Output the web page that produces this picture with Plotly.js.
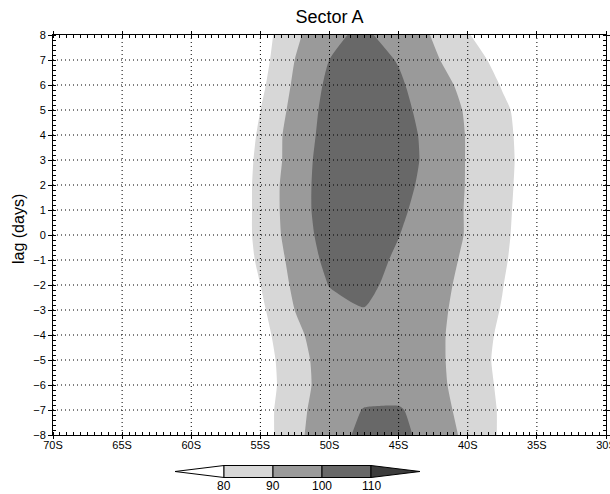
<!DOCTYPE html>
<html>
<head>
<meta charset="utf-8">
<script src="https://cdn.plot.ly/plotly-3.0.1.min.js"></script>
<style>
html,body{margin:0;padding:0;background:#ffffff;}
#chart{width:610px;height:494px;}
</style>
</head>
<body>
<div id="chart"></div>
<script>
// ---- data ----
const latitudes = [-70,-67.5,-65,-62.5,-60,-57.5,-55,-52.5,-50,-47.5,-45,-42.5,-40,-37.5,-35,-32.5,-30];
const lags = [-8,-7,-6,-5,-4,-3,-2,-1,0,1,2,3,4,5,6,7,8];

const lagM8 = [42,46,50,54,58, 64.5, 75.47, 86.8, 98.23, 101,   103,   95.5,  87.86, 78.5,  72,   66,60];
const lagM7 = [42,46,50,54,58, 65.4, 75.83, 86.25,96.67, 100.29,101,   94.75, 86.27, 78.8,  73,   66,60];
const lagM6 = [42,46,50,54,58, 65.2, 75.2,  85.2, 95.2,  97.5,  95,    93.5,  85.05, 78.4,  73,   66,60];
const lagM5 = [42,46,50,54,58, 65.6, 75.6,  85.6, 95.6,  97.5,  97,    94,    82.9,  78.64, 73,   66,60];
const lagM4 = [42,46,50,54,58, 66.2, 76.67, 87.08,97.5,  98.5,  97.5,  94.5,  82,    79.37, 74,   66,60];
const lagM3 = [42,46,50,54,58, 66.8, 78.07, 90.1, 97,    99.7,  98,    94,    84.9,  79.57, 74,   66,60];
const lagM2 = [42,46,50,54,58, 68.1, 79.95, 91.9, 100.34,102.5, 96.82, 92.64, 87.93, 80.27, 73.5, 66,60];
const lagM1 = [42,46,50,54,58, 70.45,81.82, 93.18,102.65,103.5, 98.64, 93.6,  88.6,  81.1,  74.2, 66,60];
const lag0  = [42,46,50,54,58, 70.95,82.86, 94.76,104.1, 105,   100.22,94.78, 89.35, 81.76, 74.4, 66,60];
const lagP1 = [42,46,50,54,58, 70.5, 83,    95.5, 104.9, 106.5, 101.75,95.5,  89.25, 82,    74.9, 66,60];
const lagP2 = [42,46,50,54,58, 70.5, 83,    95.5, 104.9, 107,   103.3, 96.4,  89.4,  82.3,  75.2, 66,60];
const lagP3 = [42,46,50,54,58, 70,   82.5,  94.4, 105.2, 107,   104.5, 97,    89.4,  82.5,  75.5, 66,60];
const lagP4 = [42,46,50,54,58, 68.4, 81.6,  94.7, 103.5, 107,   104.1, 96.8,  89.4,  82.3,  75.2, 66,60];
const lagP5 = [42,46,50,54,58, 67.5, 79.95, 93.2, 103.2, 106,   102.8, 95.8,  88.9,  81.7,  74.6, 66,60];
const lagP6 = [42,46,50,54,58, 65,   77.8,  91.7, 102.1, 105,   101.4, 94.3,  87.1,  79.4,  73,   66,60];
const lagP7 = [42,46,50,54,58, 65,   76.1,  90.1, 100.1, 104,   99.45, 91.5,  84,    76.9,  70,   66,60];
const lagP8 = [42,46,50,54,58, 62.5, 75,    88.5, 96,    103.7, 90.5,  89.95, 80.5,  74.3,  68,   66,60];

const xTickVals = [-70,-65,-60,-55,-50,-45,-40,-35,-30];
const xTickText = ['70S','65S','60S','55S','50S','45S','40S','35S','30S'];
const yTickVals = [-8,-7,-6,-5,-4,-3,-2,-1,0,1,2,3,4,5,6,7,8];

const contourLevels = [80,90,100,110];
const shadeColors = ['#ffffff','#d7d7d7','#9a9a9a','#686868','#3c3c3c'];

// ---- build ----
const zGrid = [lagM8,lagM7,lagM6,lagM5,lagM4,lagM3,lagM2,lagM1,lag0,lagP1,lagP2,lagP3,lagP4,lagP5,lagP6,lagP7,lagP8];
const colorscale = shadeColors.map((c,i)=>[i/(shadeColors.length-1), c]);

const trace = {
  type:'contour',
  x: latitudes, y: lags, z: zGrid,
  contours:{start:contourLevels[0], end:contourLevels[contourLevels.length-1],
            size:contourLevels[1]-contourLevels[0], coloring:'fill', showlines:false},
  colorscale: colorscale,
  showscale:false,
  line:{width:0, smoothing:0.6},
  hoverinfo:'skip'
};

const W=610,H=494, mL=53, mR=4, mT=35, mB=59;
const plotW = W-mL-mR, plotH = H-mT-mB;
const px2x = p => (p-mL)/plotW;
const py2y = p => (H-mB-p)/plotH;

const tickFont = {family:'Liberation Sans Narrow, Liberation Sans, Arial, sans-serif', size:11, color:'#000'};
const gridDash = '1px,3px';

const shapes = [];
// dotted grid on top of the shading
xTickVals.slice(1,-1).forEach(v=>shapes.push({type:'line',xref:'x',yref:'paper',x0:v,x1:v,y0:0,y1:1,
  layer:'above', line:{color:'#000',width:1,dash:gridDash}}));
yTickVals.slice(1,-1).forEach(v=>shapes.push({type:'line',xref:'paper',yref:'y',x0:0,x1:1,y0:v,y1:v,
  layer:'above', line:{color:'#000',width:1,dash:gridDash}}));

// GrADS-style colour bar with triangular ends
const cbLeft = 175, seg = 49, cbTop = 465.5, cbBot = 477.5, cbMid = (cbTop+cbBot)/2;
const annotations = [];
const nBox = contourLevels.length-1;
shapes.push({type:'path', xref:'paper', yref:'paper', layer:'above',
  path:`M ${px2x(cbLeft)} ${py2y(cbMid)} L ${px2x(cbLeft+seg)} ${py2y(cbTop)} L ${px2x(cbLeft+seg)} ${py2y(cbBot)} Z`,
  fillcolor: shadeColors[0], line:{color:'#000',width:1}});
for(let i=0;i<nBox;i++){
  const x0 = cbLeft+seg*(i+1), x1 = x0+seg;
  shapes.push({type:'rect', xref:'paper', yref:'paper', layer:'above',
    x0:px2x(x0), x1:px2x(x1), y0:py2y(cbBot), y1:py2y(cbTop),
    fillcolor: shadeColors[i+1], line:{color:'#000',width:1}});
}
{
  const xr = cbLeft+seg*(nBox+1);
  shapes.push({type:'path', xref:'paper', yref:'paper', layer:'above',
    path:`M ${px2x(xr)} ${py2y(cbTop)} L ${px2x(xr+seg)} ${py2y(cbMid)} L ${px2x(xr)} ${py2y(cbBot)} Z`,
    fillcolor: shadeColors[shadeColors.length-1], line:{color:'#000',width:1}});
}
contourLevels.forEach((lv,i)=>annotations.push({xref:'paper',yref:'paper',
  x:px2x(cbLeft+seg*(i+1)), y:py2y(486.5), text:String(lv), showarrow:false,
  xanchor:'center', yanchor:'middle', font:{family:'Liberation Sans, Arial, sans-serif', size:12, color:'#000'}}));

annotations.push({xref:'paper',yref:'paper', x:px2x(18), y:py2y(229), text:'lag (days)',
  textangle:-90, showarrow:false, xanchor:'center', yanchor:'middle',
  font:{family:'Liberation Sans, Arial, sans-serif', size:16, color:'#000'}});

const layout = {
  width:W, height:H,
  margin:{l:mL, r:mR, t:mT, b:mB, pad:0},
  paper_bgcolor:'#ffffff', plot_bgcolor:'#ffffff',
  showlegend:false,
  title:{text:'Sector A', x:0.5, xref:'paper', xanchor:'center', y:1-17/H, yref:'container', yanchor:'middle',
         font:{family:'Liberation Sans, Arial, sans-serif', size:18, color:'#000'}},
  xaxis:{range:[-70,-30], tickmode:'array', tickvals:xTickVals, ticktext:xTickText,
         ticks:'outside', ticklen:3, tickwidth:1, tickcolor:'#000', ticklabeloverflow:'allow',
         ticklabelstandoff:-3,
         showline:true, linecolor:'#000', linewidth:1, mirror:'allticks',
         showgrid:false, zeroline:false, tickfont:tickFont, layer:'above traces',
         minor:{dtick:0.5, ticks:'inside', ticklen:3, tickcolor:'#000', tickwidth:1, showgrid:false}},
  yaxis:{range:[-8,8], tickmode:'array', tickvals:yTickVals,
         ticks:'outside', ticklen:4, tickwidth:1, tickcolor:'#000',
         showline:true, linecolor:'#000', linewidth:1, mirror:'allticks',
         showgrid:false, zeroline:false, tickfont:tickFont, layer:'above traces',
         minor:{dtick:0.2, ticks:'inside', ticklen:3, tickcolor:'#000', tickwidth:1, showgrid:false}},
  shapes: shapes,
  annotations: annotations
};

Plotly.newPlot('chart', [trace], layout, {displayModeBar:false, staticPlot:true});
</script>
</body>
</html>
